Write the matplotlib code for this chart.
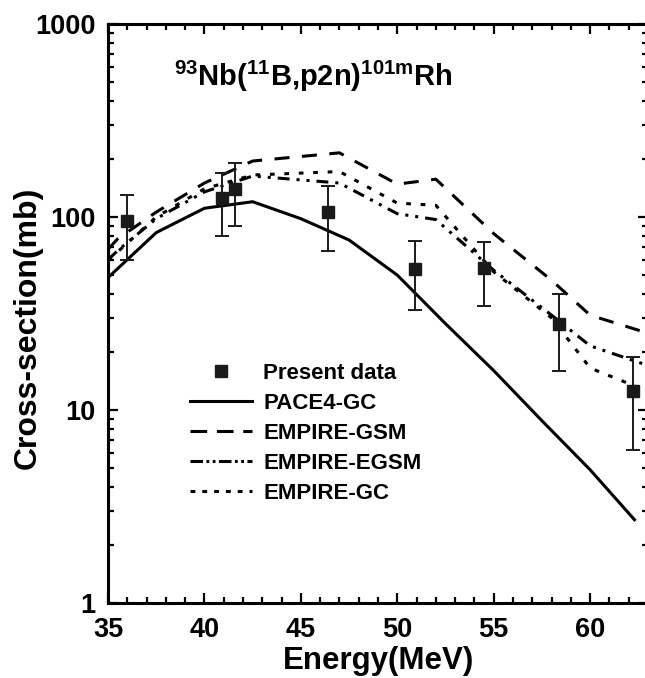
import matplotlib
matplotlib.use("Agg")
import matplotlib.pyplot as plt
from matplotlib.lines import Line2D
from matplotlib.ticker import FixedLocator, MultipleLocator, LogLocator, NullFormatter, FixedFormatter

plt.rcParams['font.family'] = ['Liberation Sans', 'DejaVu Sans']
plt.rcParams['font.weight'] = 'bold'
plt.rcParams['mathtext.fontset'] = 'custom'
plt.rcParams['mathtext.rm'] = 'Liberation Sans:bold'
plt.rcParams['mathtext.default'] = 'rm'
plt.rcParams['lines.scale_dashes'] = False

# ---- data ----
E_exp = [36.0, 40.9, 41.6, 46.4, 50.9, 54.5, 58.4, 62.2]
sig_exp = [95, 125, 140, 106, 54, 54.5, 28, 12.5]
err_exp = [35, 45, 50, 39, 21, 20, 12, 6.3]

E_pace = [35, 37.5, 40, 42.5, 45, 47.5, 50, 52.5, 55, 57.5, 60, 62.3]
sig_pace = [48.5, 83, 111, 120, 98, 76, 50, 28, 16, 8.8, 4.9, 2.7]

E_emp = [35, 35.5, 37.5, 40, 42.5, 47, 50, 52, 55, 58, 60, 63]
sig_gsm = [68, 77, 106, 150, 195, 215, 148, 157, 82, 47, 31, 25]
sig_egsm = [60, 67, 98, 135, 163, 150, 104, 97, 53, 31, 21.5, 17]
sig_gc = [60, 66, 100, 140, 165, 172, 118, 115, 52, 30, 16.5, 12.5]

labels = ['Present data', 'PACE4-GC', 'EMPIRE-GSM', 'EMPIRE-EGSM', 'EMPIRE-GC']
xticks = [35, 40, 45, 50, 55, 60]
yticks = [1, 10, 100, 1000]
ytick_labels = ['1', '10', '100', '1000']

W, H = 645, 678
fig = plt.figure(figsize=(W / 100, H / 100), dpi=100)
ax = fig.add_axes([108 / W, (H - 603) / H, (648 - 108) / W, (603 - 24) / H])

lw = 2.2
ax.plot(E_pace, sig_pace, color='black', lw=lw, solid_joinstyle='miter')
ax.plot(E_emp, sig_gsm, color='black', lw=lw, dashes=(10.8, 9.0), dash_capstyle='butt')
ax.plot(E_emp, sig_egsm, color='black', lw=lw, dashes=(8.6, 5.0, 2.2, 5.0, 2.2, 5.0))
ax.plot(E_emp, sig_gc, color='black', lw=lw, dashes=(3.4, 7.0))
ax.errorbar(E_exp, sig_exp, yerr=err_exp, fmt='s', color='#1a1a1a', ms=8,
            elinewidth=1.4, capsize=5, capthick=1.4, zorder=5)

ax.set_xscale('linear')
ax.set_yscale('log')
ax.set_xlim(35, 63)
ax.set_ylim(1, 1000)

ax.xaxis.set_major_locator(FixedLocator(xticks))
ax.xaxis.set_minor_locator(MultipleLocator(1))
ax.yaxis.set_major_locator(FixedLocator(yticks))
ax.yaxis.set_major_formatter(FixedFormatter(ytick_labels))
ax.yaxis.set_minor_locator(LogLocator(base=10, subs=range(2, 10)))
ax.yaxis.set_minor_formatter(NullFormatter())

ax.tick_params(which='both', direction='in', top=True, right=True, labelsize=19.5, width=1.6)
ax.tick_params(which='major', length=7)
ax.tick_params(axis='x', which='major', pad=10)
ax.tick_params(axis='y', which='major', pad=9)
ax.tick_params(which='minor', length=4)
for s in ax.spines.values():
    s.set_linewidth(2.2)

ax.set_xlabel('Energy(MeV)', fontsize=22.5, fontweight='bold', labelpad=2)
ax.set_ylabel('Cross-section(mb)', fontsize=23, fontweight='bold')
ax.yaxis.set_label_coords((43 - 108) / 540, (603 - 328) / 579)

ax.text(0.38, 0.91, r'$^{93}$Nb($^{11}$B,p2n)$^{101m}$Rh', transform=ax.transAxes,
        ha='center', va='center', fontsize=21, fontweight='bold')

handles = [
    Line2D([], [], marker='s', ls='none', color='#1a1a1a', ms=8),
    Line2D([], [], color='black', lw=lw),
    Line2D([], [], color='black', lw=lw, dashes=(12, 7)),
    Line2D([], [], color='black', lw=lw, dashes=(9, 2.5, 2, 2.5, 2, 2.5)),
    Line2D([], [], color='black', lw=lw, dashes=(3.5, 5)),
]
ax.legend(handles, labels, loc='upper left', bbox_to_anchor=((190 - 108) / 540, (603 - 363) / 579),
          frameon=False, handlelength=2.8, handletextpad=0.5,
          labelspacing=0.4, borderpad=0, borderaxespad=0,
          prop={'weight': 'bold', 'size': 16})

fig.savefig('out.png', dpi=100)
